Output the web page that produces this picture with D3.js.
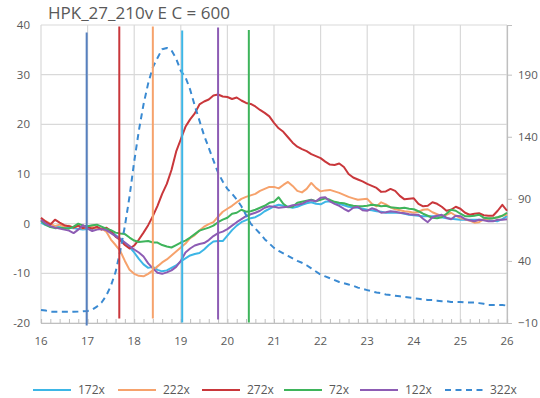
<!DOCTYPE html>
<html>
<head>
<meta charset="utf-8">
<script src="https://cdn.jsdelivr.net/npm/d3@7"></script>
<style>
  html, body { margin: 0; padding: 0; background: #fff; }
  svg text { font-family: "Open Sans", "Liberation Sans", sans-serif; fill: #595959; }
</style>
</head>
<body>
<div id="chart"></div>
<script>
// samples every 0.1 from 16 to 26
const times = d3.range(160, 261).map((d) => d / 10)

const s172 = [0.2, -0.3, -0.6, -0.6, -0.7, -0.8, -0.8, -0.9, -1.1, -1.2,
  -1.1, -1.0, -0.9, -1.0, -1.2, -1.6, -2.3, -3.0, -3.9, -4.7,
  -5.8, -7.1, -8.2, -8.9, -8.7, -9.3, -9.6, -9.4, -8.9, -8.4,
  -7.6, -7.0, -6.4, -6.1, -5.9, -5.2, -4.3, -3.6, -3.5, -3.5,
  -2.4, -1.3, -0.4, 0.3, 0.7, 1.1, 1.3, 1.8, 2.5, 3.0,
  3.5, 3.8, 3.6, 3.4, 3.2, 3.4, 3.8, 4.1, 4.3, 4.0,
  3.9, 4.4, 4.5, 4.3, 4.0, 3.7, 3.4, 3.3, 3.2, 3.0,
  2.8, 2.7, 2.5, 2.4, 2.2, 2.2, 2.2, 2.2, 2.0, 1.8,
  1.7, 1.6, 1.5, 1.5, 1.5, 1.5, 1.3, 1.1, 1.0, 0.9,
  0.8, 0.8, 0.8, 0.8, 0.8, 0.8, 0.8, 0.6, 0.5, 0.9, 1.5]

const s222 = [1.0, 0.5, 0.0, -0.5, -0.2, -0.6, -0.4, -0.8, -0.5, -1.0,
  -0.8, -0.6, -1.1, -0.9, -1.6, -3.2, -4.3, -5.5, -7.5, -9.3,
  -10.1, -10.5, -10.6, -10.1, -9.4, -8.6, -7.8, -7.2, -6.4, -5.6,
  -4.8, -4.0, -2.9, -2.3, -1.4, -0.6, -0.1, 0.3, 1.4, 2.4,
  3.0, 3.6, 4.3, 5.0, 5.4, 5.7, 6.0, 6.6, 7.0, 7.4,
  7.4, 7.1, 7.8, 8.4, 7.6, 6.6, 6.3, 7.0, 8.2, 7.2,
  6.5, 6.7, 6.8, 6.5, 6.2, 5.8, 5.4, 5.1, 4.8, 4.9,
  5.0, 4.0, 3.5, 4.3, 3.9, 3.3, 2.9, 2.7, 2.5, 2.4,
  2.2, 2.4, 2.8, 2.9, 2.3, 1.9, 1.5, 1.8, 2.2, 1.6,
  1.1, 0.9, 0.6, 0.2, 0.3, 0.9, 1.0, 1.1, 1.3, 1.6, 1.8]

const s272 = [1.2, 0.4, -0.2, 0.8, 0.2, -0.3, -0.5, -0.8, -0.4, -0.9,
  -0.7, -1.0, -0.6, -1.2, -0.8, -1.5, -2.6, -3.3, -4.3, -5.0,
  -4.4, -3.2, -1.8, -0.3, 1.5, 3.6, 6.0, 8.0, 10.8, 14.5,
  17.0, 19.5, 21.0, 22.2, 24.0, 24.6, 25.0, 25.8, 26.0, 25.6,
  25.5, 25.1, 25.4, 24.8, 24.3, 24.1, 23.6, 22.9, 22.3, 21.6,
  20.3, 19.2, 18.5, 17.4, 16.3, 15.5, 15.0, 14.6, 14.0, 13.6,
  13.2, 12.5, 11.9, 11.8, 12.1, 11.4, 10.0, 9.3, 8.9, 8.5,
  8.0, 7.6, 7.2, 6.4, 6.5, 7.0, 6.6, 5.6, 4.9, 5.0,
  5.1, 4.0, 3.5, 3.6, 4.3, 4.0, 3.4, 2.6, 2.8, 3.4,
  3.0, 2.2, 1.8, 2.0, 2.1, 1.7, 1.6, 1.6, 2.6, 3.8, 2.6]

const s72 = [0.6, -0.2, -0.7, -0.9, -0.8, -0.9, -1.0, -0.6, 0.0, -0.4,
  -0.5, -0.3, -0.2, -0.6, -1.0, -1.3, -1.8, -2.0, -2.1, -2.8,
  -3.4, -3.7, -3.6, -3.5, -3.8, -3.8, -4.3, -4.6, -4.8, -4.3,
  -3.8, -3.4, -2.8, -2.1, -1.4, -1.1, -0.8, -0.4, 0.3, 0.8,
  1.2, 2.0, 2.2, 2.8, 2.4, 2.5, 2.8, 3.2, 3.6, 4.2,
  4.4, 5.3, 4.0, 3.3, 3.4, 4.2, 4.4, 4.6, 4.8, 4.5,
  4.8, 5.1, 4.8, 4.4, 4.2, 4.1, 3.8, 3.6, 3.5, 3.5,
  3.6, 3.8, 3.7, 3.5, 3.6, 3.3, 3.2, 3.1, 3.2, 3.0,
  2.9, 2.5, 2.0, 1.6, 1.2, 1.1, 1.3, 2.0, 2.8, 2.6,
  2.0, 1.5, 1.5, 1.6, 1.8, 1.2, 1.1, 1.1, 1.3, 1.6, 2.2]

const s122 = [0.8, 0.0, -0.5, -0.8, -1.0, -1.2, -1.4, -1.9, -1.2, -0.3,
  -1.0, -1.5, -1.2, -1.1, -1.3, -1.9, -2.5, -3.1, -3.8, -4.5,
  -5.2, -5.8, -6.6, -8.0, -9.0, -9.9, -10.1, -9.8, -9.4, -8.7,
  -7.5, -5.8, -5.0, -4.4, -4.1, -3.9, -3.3, -2.5, -1.9, -1.6,
  -1.1, -0.4, 0.3, 0.9, 1.5, 1.9, 2.2, 2.6, 3.2, 3.5,
  3.4, 3.2, 3.3, 3.4, 3.7, 3.8, 4.0, 4.5, 4.7, 4.5,
  5.2, 5.3, 4.5, 4.0, 3.6, 3.0, 2.5, 3.2, 3.4, 2.7,
  2.6, 3.1, 2.8, 2.2, 2.3, 2.5, 2.4, 2.2, 2.1, 1.9,
  1.8, 1.8, 1.0, 0.3, 1.3, 1.6, 1.8, 1.2, 0.9, 1.6,
  1.5, 0.9, 0.7, 0.5, 0.8, 0.7, 0.5, 0.5, 0.8, 0.8, 0.9]

// 322x is read on the right axis
const s322 = [0.5, 0, -0.8, -1, -1, -1, -1, -0.9, -0.8, -0.5,
  -0.3, 0.8, 3.2, 6.5, 12, 20, 31, 48, 68, 92,
  120, 145, 166, 183, 196, 203.5, 210.5, 211.5, 209.5, 203,
  193, 188, 178, 165, 153, 141, 131, 121, 111, 104,
  98, 94, 89.5, 84, 77, 70, 66, 62, 57.5, 54,
  50.5, 48, 46, 44, 42, 40, 38.5, 36.5, 34, 31.5,
  29, 27.5, 26, 24.5, 23, 22, 21, 20, 18.5, 17.5,
  16.5, 15.5, 14.5, 14, 13, 12.5, 12, 11.5, 11, 10.5,
  10, 9.5, 9, 8.5, 8.5, 8, 7.5, 7.5, 7, 7,
  7, 6.5, 6.5, 6.5, 6, 5.5, 4.5, 4.5, 4.5, 4.5, 4]

const seriesNames = ['172x', '222x', '272x', '72x', '122x', '322x']
const seriesValues = [s172, s222, s272, s72, s122, s322]

// vertical marker lines (left axis units)
const markerNames = ['322x', '272x', '222x', '172x', '122x', '72x']
const markerX = [16.98, 17.68, 18.40, 19.03, 19.80, 20.46]
const markerLow = [-20.5, -19.1, -19.1, -19.9, -19.3, -19.9]
const markerHigh = [38.5, 39.7, 39.7, 38.9, 39.5, 39.0]

const xTicks = [16, 17, 18, 19, 20, 21, 22, 23, 24, 25, 26]
const leftTicks = [-20, -10, 0, 10, 20, 30, 40]
const rightTicks = [-10, 40, 90, 140, 190]

const colors = {
  '172x': '#3db6e6',
  '222x': '#f6a26c',
  '272x': '#c9373b',
  '72x': '#3eb45b',
  '122x': '#8d5cb4',
  '322x': '#3a8ad2',
}
const markerColors = {
  '322x': '#5680bf',
  '272x': '#c9373b',
  '222x': '#f6a26c',
  '172x': '#3db6e6',
  '122x': '#8d5cb4',
  '72x': '#3eb45b',
}

const width = 540
const height = 398

const svg = d3.select('#chart')
  .append('svg')
  .attr('width', width)
  .attr('height', height)

const x = d3.scaleLinear().domain([16, 26]).range([41, 507])
const yL = d3.scaleLinear().domain([-20, 40]).range([323, 25])
const yR = d3.scaleLinear().domain([-10, 230]).range([323, 25])

// gridlines
svg.append('g')
  .selectAll('line')
  .data(leftTicks)
  .enter()
  .append('line')
  .attr('x1', x(16))
  .attr('x2', x(26))
  .attr('y1', (d) => yL(d))
  .attr('y2', (d) => yL(d))
  .attr('stroke', '#d9d9d9')
  .attr('stroke-width', 1.2)

svg.append('g')
  .selectAll('line')
  .data(xTicks)
  .enter()
  .append('line')
  .attr('x1', (d) => x(d))
  .attr('x2', (d) => x(d))
  .attr('y1', yL(40))
  .attr('y2', yL(-20))
  .attr('stroke', '#d9d9d9')
  .attr('stroke-width', 1.2)

// bottom axis with minor ticks pointing up
const xAxis = svg.append('g')
  .attr('transform', `translate(0, ${yL(-20)})`)
  .call(d3.axisBottom(x).tickValues(d3.range(80, 131).map((d) => d / 5)).tickSize(-4).tickFormat(''))
xAxis.select('.domain').attr('stroke', '#bfbfbf').attr('stroke-width', 1.2)
xAxis.selectAll('.tick line').attr('stroke', '#bfbfbf')

svg.append('g')
  .selectAll('text')
  .data(xTicks)
  .enter()
  .append('text')
  .attr('x', (d) => x(d))
  .attr('y', 345)
  .attr('text-anchor', 'middle')
  .attr('font-size', 11.5)
  .text((d) => d)

// left axis labels
svg.append('g')
  .selectAll('text')
  .data(leftTicks)
  .enter()
  .append('text')
  .attr('x', 30)
  .attr('y', (d) => yL(d) + 4)
  .attr('text-anchor', 'end')
  .attr('font-size', 11.5)
  .text((d) => d)

// right axis
const rAxis = svg.append('g')
  .attr('transform', `translate(${x(26)}, 0)`)
  .call(d3.axisRight(yR).tickValues(rightTicks).tickSize(5).tickPadding(6))
rAxis.select('.domain').attr('stroke', '#bfbfbf').attr('stroke-width', 1.2)
rAxis.selectAll('.tick line').attr('stroke', '#bfbfbf')
rAxis.selectAll('.tick text')
  .attr('font-size', 11.5)
  .attr('font-family', '"Open Sans", sans-serif')
  .attr('fill', '#595959')

// series
const line = (yScale) => d3.line()
  .x((d, i) => x(times[i]))
  .y((d) => yScale(d))

seriesNames.forEach((name, si) => {
  const isRight = name === '322x'
  svg.append('path')
    .datum(seriesValues[si])
    .attr('fill', 'none')
    .attr('stroke', colors[name])
    .attr('stroke-width', 2)
    .attr('stroke-linejoin', 'round')
    .attr('stroke-dasharray', isRight ? '6,4.5' : null)
    .attr('d', line(isRight ? yR : yL))
})

// markers
svg.append('g')
  .selectAll('line')
  .data(markerNames)
  .enter()
  .append('line')
  .attr('x1', (d, i) => x(markerX[i]))
  .attr('x2', (d, i) => x(markerX[i]))
  .attr('y1', (d, i) => yL(markerLow[i]))
  .attr('y2', (d, i) => yL(markerHigh[i]))
  .attr('stroke', (d) => markerColors[d])
  .attr('stroke-width', 2)

// title
svg.append('text')
  .attr('x', 48)
  .attr('y', 19)
  .attr('font-size', 17)
  .text('HPK_27_210v E C = 600')

// legend
const legendX = [33, 118, 202, 284, 360, 445]
const legend = svg.append('g')
  .selectAll('g')
  .data(seriesNames)
  .enter()
  .append('g')
  .attr('transform', (d, i) => `translate(${legendX[i]}, 390)`)

legend.append('line')
  .attr('x1', 0)
  .attr('x2', 38)
  .attr('stroke', (d) => colors[d])
  .attr('stroke-width', 2)
  .attr('stroke-dasharray', (d) => d === '322x' ? '6,4.5' : null)

legend.append('text')
  .attr('x', 45)
  .attr('y', 4)
  .attr('font-size', 12)
  .text((d) => d)
</script>
</body>
</html>
